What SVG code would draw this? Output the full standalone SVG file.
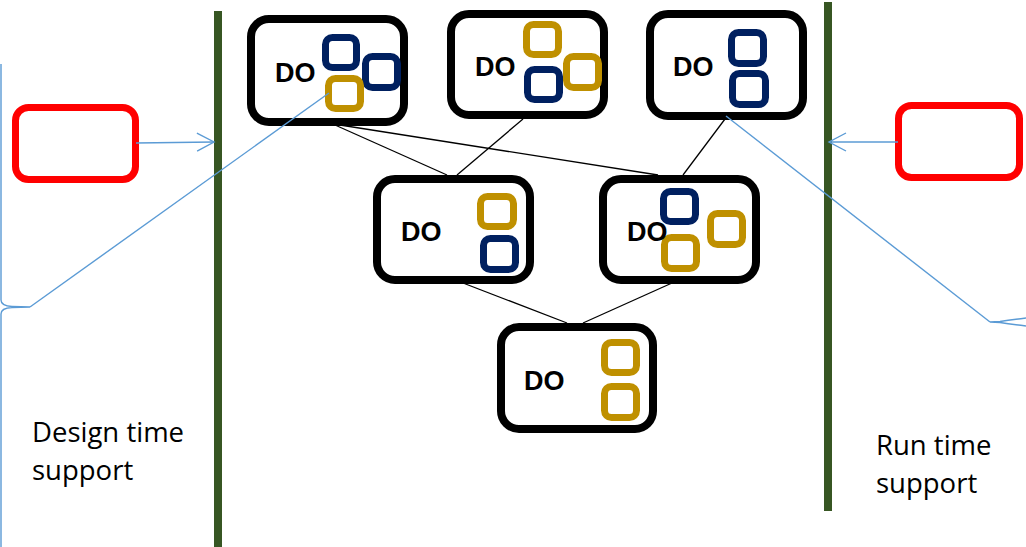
<svg xmlns="http://www.w3.org/2000/svg" width="1026" height="547" viewBox="0 0 1026 547">
  <style>
    .do { fill: #ffffff; stroke: #000000; stroke-width: 8; }
    .sq { fill: none; stroke-width: 7; }
    .navy { stroke: #002060; }
    .gold { stroke: #BF9000; }
    .lbl { font-family: "Liberation Sans", Arial, sans-serif; font-weight: 700; font-size: 27px; fill: #000000; }
    .note { font-family: "Open Sans", "Liberation Sans", sans-serif; font-size: 27.5px; fill: #000000; }
    .bar { fill: #375623; }
    .red { fill: #ffffff; stroke: #FF0000; stroke-width: 7; }
    .link { stroke: #000000; stroke-width: 1.3; fill: none; }
    .blue { stroke: #5B9BD5; stroke-width: 1.4; fill: none; }
  </style>
  <defs>
    <marker id="open" viewBox="0 0 20 20" refX="18" refY="10" markerWidth="20" markerHeight="20" markerUnits="userSpaceOnUse" orient="auto">
      <polyline points="1,1 18,10 1,19" fill="none" stroke="#5B9BD5" stroke-width="1.4"/>
    </marker>
  </defs>

  <rect width="1026" height="547" fill="#ffffff"/>

  <!-- separating bars -->
  <g id="bars">
    <rect class="bar" x="214" y="11" width="8" height="536"/>
    <rect class="bar" x="824" y="2" width="8" height="509"/>
  </g>

  <!-- side boxes -->
  <g id="design-box"><rect class="red" x="15.5" y="107.5" width="120" height="72" rx="13"/></g>
  <g id="runtime-box"><rect class="red" x="898.5" y="105.5" width="121" height="72" rx="13"/></g>

  <!-- data objects -->
  <g id="do1">
    <rect class="do" x="251" y="19" width="153" height="103" rx="18"/>
    <rect class="sq navy" x="325.5" y="37.5" width="31" height="30" rx="7"/>
    <rect class="sq navy" x="365.5" y="56.5" width="32" height="31" rx="7"/>
    <rect class="sq gold" x="328.5" y="78.5" width="32" height="30" rx="7"/>
    <text class="lbl" x="275" y="82">DO</text>
  </g>
  <g id="do2">
    <rect class="do" x="451" y="14" width="153" height="101" rx="18"/>
    <rect class="sq gold" x="526.5" y="24.5" width="32" height="30" rx="7"/>
    <rect class="sq gold" x="566.5" y="56.5" width="32" height="31" rx="7"/>
    <rect class="sq navy" x="527.5" y="69.5" width="32" height="30" rx="7"/>
    <text class="lbl" x="475" y="76">DO</text>
  </g>
  <g id="do3">
    <rect class="do" x="650" y="14" width="153" height="102" rx="18"/>
    <rect class="sq navy" x="731.5" y="32.5" width="32" height="31" rx="7"/>
    <rect class="sq navy" x="732.5" y="73.5" width="33" height="31" rx="7"/>
    <text class="lbl" x="673" y="76">DO</text>
  </g>
  <g id="do4">
    <rect class="do" x="377" y="179" width="153" height="101" rx="18"/>
    <rect class="sq gold" x="480.5" y="196.5" width="33" height="30" rx="7"/>
    <rect class="sq navy" x="483.5" y="238.5" width="32" height="31" rx="7"/>
    <text class="lbl" x="401" y="241">DO</text>
  </g>
  <g id="do5">
    <rect class="do" x="603" y="179" width="153" height="101" rx="18"/>
    <rect class="sq navy" x="663.5" y="191.5" width="32" height="30" rx="7"/>
    <rect class="sq gold" x="710.5" y="213.5" width="32" height="31" rx="7"/>
    <rect class="sq gold" x="664.5" y="237.5" width="32" height="31" rx="7"/>
    <text class="lbl" x="627" y="241">DO</text>
  </g>
  <g id="do6">
    <rect class="do" x="501" y="327" width="152" height="102" rx="18"/>
    <rect class="sq gold" x="604.5" y="342.5" width="32" height="30" rx="7"/>
    <rect class="sq gold" x="604.5" y="386.5" width="32" height="31" rx="7"/>
    <text class="lbl" x="524" y="390">DO</text>
  </g>

  <!-- captions -->
  <g id="design-caption">
    <text class="note" x="32" y="442">Design time</text>
    <text class="note" x="32" y="480">support</text>
  </g>
  <g id="runtime-caption">
    <text class="note" x="876" y="455">Run time</text>
    <text class="note" x="876" y="493">support</text>
  </g>

  <!-- connectors -->
  <g id="connectors">
    <line class="link" x1="335" y1="125" x2="447" y2="175"/>
    <line class="link" x1="340" y1="125" x2="658" y2="175"/>
    <line class="link" x1="523" y1="119" x2="457" y2="175"/>
    <line class="link" x1="725" y1="119" x2="683" y2="175"/>
    <line class="link" x1="463" y1="283" x2="567" y2="323"/>
    <line class="link" x1="672" y1="283" x2="583" y2="323"/>

    <line class="blue" x1="136" y1="143" x2="214" y2="142" marker-end="url(#open)"/>
    <line class="blue" x1="898" y1="142" x2="829" y2="142" marker-end="url(#open)"/>

    <path class="blue" d="M1,64 V300 Q1,306 12,306.5 L30,307 M30,307 L12,307.5 Q1,308 1,314 V547"/>
    <line class="blue" x1="30" y1="307" x2="329" y2="93"/>

    <path class="blue" d="M1026,318 Q1010,320 1000,321.5 L990,322 L1000,322.5 Q1010,324 1026,326"/>
    <line class="blue" x1="726" y1="116" x2="990" y2="322"/>
  </g>
</svg>
